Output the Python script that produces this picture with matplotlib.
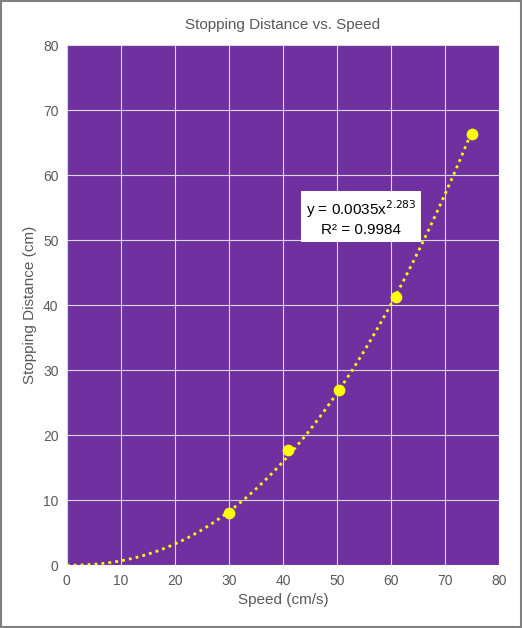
import matplotlib
matplotlib.use("Agg")
import matplotlib.pyplot as plt
import numpy as np

speed = [30, 41, 50.3, 61, 75]
distance = [8.0, 17.7, 27.0, 41.2, 66.3]
coef_a = 0.0035
coef_b = 2.283

PURPLE = "#7030A0"
YELLOW = "#FFFF00"
GRID = "#D9D9D9"
TEXT = "#595959"

plt.rcParams["font.family"] = ["Liberation Sans", "DejaVu Sans"]

fig = plt.figure(figsize=(5.22, 6.28), dpi=100)
fig.patch.set_facecolor("white")
ax = fig.add_axes([0.128, 0.100, 0.828, 0.828])
ax.set_facecolor(PURPLE)

xs = np.linspace(0, 75, 200)
ax.plot(xs, coef_a * xs ** coef_b, linestyle=(0, (1, 1.5)), color=YELLOW,
        linewidth=2, zorder=3)
ax.scatter(speed, distance, s=55, color=YELLOW, zorder=4)

ax.set_xlim(0, 80)
ax.set_ylim(0, 80)
ax.set_xticks(range(0, 81, 10))
ax.set_yticks(range(0, 81, 10))
ax.grid(color=GRID, linewidth=0.8, zorder=0)
ax.set_axisbelow(True)
for s in ax.spines.values():
    s.set_visible(False)
ax.tick_params(length=0, colors=TEXT, labelsize=10, pad=6)
ax.set_xlabel("Speed (cm/s)", color=TEXT, fontsize=11)
ax.set_ylabel("Stopping Distance (cm)", color=TEXT, fontsize=11)
ax.set_title("Stopping Distance vs. Speed", color=TEXT, fontsize=11, pad=12)

ax.text(54.5, 53.5, "y = 0.0035x$^{2.283}$\nR² = 0.9984", ha="center", va="center",
        fontsize=11, color="black", linespacing=1.3,
        bbox=dict(boxstyle="square,pad=0.3", facecolor="white", edgecolor="none"),
        zorder=5)

fig.add_artist(plt.Rectangle((0.002, 0.002), 0.996, 0.996, transform=fig.transFigure,
                             fill=False, edgecolor="#808080", linewidth=1.5))

fig.savefig("out.png", dpi=100)
